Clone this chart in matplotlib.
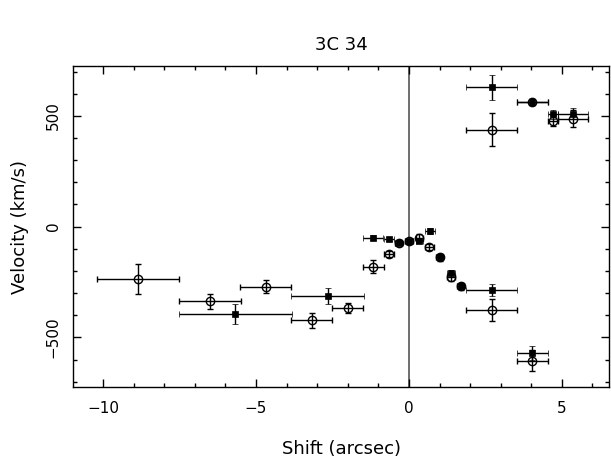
import matplotlib
matplotlib.use("Agg")
import matplotlib.pyplot as plt
from matplotlib.ticker import MultipleLocator, FuncFormatter

# Open circles
circ_x = [-8.85, -6.51, -4.68, -3.17, -2.00, -1.16, -0.65, -0.33, 0.00, 0.34, 0.67, 1.01, 1.37, 1.69, 2.70, 4.03, 2.70, 4.03, 4.71, 5.37]
circ_y = [-238, -337, -271, -423, -367, -180, -123, -72, -66, -50, -93, -138, -225, -270, -376, -605, 437, 562, 479, 488]
circ_xerr = [1.35, 1.01, 0.84, 0.67, 0.51, 0.33, 0.15, 0.12, 0.12, 0.12, 0.15, 0.12, 0.12, 0.12, 0.84, 0.50, 0.84, 0.51, 0.15, 0.49]
circ_yerr = [68, 34, 29, 35, 24, 30, 15, 12, 12, 15, 14, 15, 20, 15, 49, 47, 74, 15, 25, 40]

# Filled squares
sq_x = [-5.68, -2.66, -1.17, -0.65, -0.33, 0.00, 0.34, 0.69, 1.01, 1.37, 1.69, 2.70, 4.03, 2.70, 4.03, 4.71, 5.37]
sq_y = [-394, -314, -50, -55, -72, -66, -63, -19, -138, -210, -270, -286, -569, 628, 562, 508, 509]
sq_xerr = [1.85, 1.18, 0.33, 0.15, 0.12, 0.12, 0.12, 0.15, 0.12, 0.12, 0.12, 0.84, 0.51, 0.84, 0.51, 0.15, 0.49]
sq_yerr = [44, 36, 12, 10, 12, 12, 12, 15, 12, 15, 12, 27, 32, 57, 15, 20, 25]

title = "3C 34"
xlabel = "Shift (arcsec)"
ylabel = "Velocity (km/s)"

plt.rcParams['font.family'] = ['DejaVu Sans']

fig = plt.figure(figsize=(6.11, 4.59), dpi=100)
ax = fig.add_axes([73.3/611, 1-387.3/459, (608.7-73.3)/611, (387.3-66)/459])

ax.axvline(0, color='#555555', lw=1.2, zorder=1)

ax.errorbar(circ_x, circ_y, xerr=circ_xerr, yerr=circ_yerr, fmt='o', ms=6,
            mfc='none', mec='black', mew=1.0, ecolor='black', elinewidth=1.0,
            capsize=2.2, capthick=1.0, zorder=3)
ax.errorbar(sq_x, sq_y, xerr=sq_xerr, yerr=sq_yerr, fmt='s', ms=4.5,
            mfc='black', mec='black', mew=0.5, ecolor='black', elinewidth=1.0,
            capsize=2.2, capthick=1.0, zorder=4)

ax.set_xlim(-10.97, 6.53)
ax.set_ylim(-725, 725)

ax.xaxis.set_major_locator(MultipleLocator(5))
ax.xaxis.set_minor_locator(MultipleLocator(1))
ax.yaxis.set_major_locator(MultipleLocator(500))
ax.yaxis.set_minor_locator(MultipleLocator(100))

fmt = FuncFormatter(lambda v, p: ("\u2212%d" % abs(v)) if v < 0 else "%d" % v)
ax.xaxis.set_major_formatter(fmt)
ax.yaxis.set_major_formatter(fmt)

ax.tick_params(which='both', direction='in', top=True, right=True, width=1.0, color='black')
ax.tick_params(which='major', length=6)
ax.tick_params(which='minor', length=3)
ax.tick_params(axis='x', which='major', pad=10, labelsize=11)
ax.tick_params(axis='y', which='major', pad=9, labelsize=11)
for lab in ax.get_yticklabels():
    lab.set_rotation(90)
    lab.set_va('center')
for sp in ax.spines.values():
    sp.set_linewidth(1.0)

ax.set_xlabel(xlabel, fontsize=13, labelpad=17)
ax.set_ylabel(ylabel, fontsize=13, labelpad=12)
fig.text((73.3+608.7)/2/611, 1-45/459, title, ha='center', va='center', fontsize=13)

fig.savefig("out.png", dpi=100)
